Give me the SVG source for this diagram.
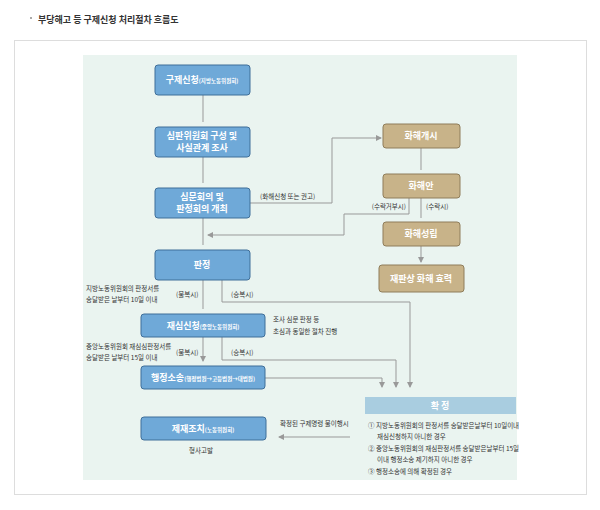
<svg xmlns="http://www.w3.org/2000/svg" width="600" height="510" viewBox="0 0 600 510">
<style>
text{font-family:"Noto Sans CJK KR","Noto Sans",sans-serif}
.b{fill:#6fa9d8;stroke:#3f6f99;stroke-width:1}
.t{fill:#c8b389;stroke:#8f7d5a;stroke-width:1}
.bt{fill:#fff;font-size:9px;text-anchor:middle;font-weight:bold}
.sm{font-size:5.5px}
.l{fill:none;stroke:#999;stroke-width:1}
.lab{fill:#333;font-size:6.5px}
</style>
<defs><marker id="a" viewBox="0 0 6 6" refX="5" refY="3" markerWidth="6" markerHeight="6" orient="auto"><path d="M0,0L6,3L0,6z" fill="#999"/></marker></defs>
<rect width="600" height="510" fill="#fff"/>
<rect x="30" y="17" width="2" height="2" fill="#aaa"/>
<text x="38" y="23" font-size="9" font-weight="bold" fill="#333">부당해고 등 구제신청 처리절차 흐름도</text>
<rect x="14.5" y="40.5" width="572" height="454" fill="#fff" stroke="#ddd"/>
<rect x="83" y="55" width="434" height="425" fill="#eaf4f0"/>
<g id="connectors">
<path class="l" marker-end="url(#a)" d="M203,95V122M203,157V183M203,218V245M203,280V309M203,337V361"/>
<path class="l" marker-end="url(#a)" d="M250,203H332V138H381"/>
<path class="l" marker-end="url(#a)" d="M421,148V170M421,198V218M421,246V262"/>
<path class="l" marker-end="url(#a)" d="M409,198V214H344V235H208"/>
<path class="l" marker-end="url(#a)" d="M222,280V302H410V387"/>
<path class="l" marker-end="url(#a)" d="M222,337V360H396V387"/>
<path class="l" marker-end="url(#a)" d="M265,378H382V387"/>
<path class="l" marker-end="url(#a)" d="M350,437H279"/>
</g>
<g id="n1"><rect class="b" x="155" y="65" width="95" height="30" rx="3"/><text class="bt" x="202" y="83">구제신청<tspan class="sm">(지방노동위원회)</tspan></text></g>
<g id="n2"><rect class="b" x="155" y="127" width="95" height="30" rx="3"/><text class="bt" x="202" y="139">심판위원회 구성 및</text><text class="bt" x="202" y="151">사실관계 조사</text></g>
<g id="n3"><rect class="b" x="155" y="188" width="95" height="30" rx="3"/><text class="bt" x="202" y="200">심문회의 및</text><text class="bt" x="202" y="212">판정회의 개최</text></g>
<g id="n4"><rect class="b" x="155" y="250" width="95" height="30" rx="3"/><text class="bt" x="202" y="268">판정</text></g>
<g id="n5"><rect class="b" x="141" y="314" width="124" height="23" rx="3"/><text class="bt" x="203" y="329">재심신청<tspan class="sm">(중앙노동위원회)</tspan></text></g>
<g id="n6"><rect class="b" x="141" y="366" width="124" height="23" rx="3"/><text class="bt" x="203" y="381">행정소송<tspan class="sm">(행정법원→고등법원→대법원)</tspan></text></g>
<g id="n7"><rect class="b" x="141" y="417" width="125" height="23" rx="3"/><text class="bt" x="203" y="432">제재조치<tspan class="sm">(노동위원회)</tspan></text></g>
<g id="t1"><rect class="t" x="383" y="124" width="77" height="24" rx="3"/><text class="bt" x="421" y="139">화해개시</text></g>
<g id="t2"><rect class="t" x="383" y="174" width="77" height="24" rx="3"/><text class="bt" x="421" y="189">화해안</text></g>
<g id="t3"><rect class="t" x="383" y="222" width="77" height="24" rx="3"/><text class="bt" x="421" y="237">화해성립</text></g>
<g id="t4"><rect class="t" x="379" y="265" width="85" height="27" rx="3"/><text class="bt" x="421" y="282" font-size="11">재판상 화해 효력</text></g>
<g id="n8"><rect x="365" y="397" width="151" height="17" fill="#a9cde0"/><text class="bt" x="440" y="409">확 정</text>
<text class="lab" x="368" y="428">①  지방노동위원회의 판정서를 송달받은날부터 10일이내</text>
<text class="lab" x="377" y="439">재심신청하지 아니한 경우</text>
<text class="lab" x="368" y="451">②  중앙노동위원회의 재심판정서를 송달받은날부터 15일</text>
<text class="lab" x="377" y="462">이내 행정소송 제기하지 아니한 경우</text>
<text class="lab" x="368" y="474">③  행정소송에 의해 확정된 경우</text></g>
<text class="lab" x="260" y="199">(화해신청 또는 권고)</text>
<text class="lab" x="406" y="209" text-anchor="end">(수락거부시)</text>
<text class="lab" x="426" y="209">(수락시)</text>
<text class="lab" x="86" y="291">지방노동위원회의 판정서를</text>
<text class="lab" x="86" y="302">송달받은 날부터 10일 이내</text>
<text class="lab" x="176" y="297">(불복시)</text>
<text class="lab" x="231" y="297">(승복시)</text>
<text class="lab" x="273" y="322">조사 심문 판정 등</text>
<text class="lab" x="273" y="334">초심과 동일한 절차 진행</text>
<text class="lab" x="86" y="349">중앙노동위원회 재심심판정서를</text>
<text class="lab" x="86" y="360">송달받은 날부터 15일 이내</text>
<text class="lab" x="176" y="355">(불복시)</text>
<text class="lab" x="231" y="355">(승복시)</text>
<text class="lab" x="280" y="426">확정된 구제명령 불이행시</text>
<text class="lab" x="189" y="453">형사고발</text>
</svg>
